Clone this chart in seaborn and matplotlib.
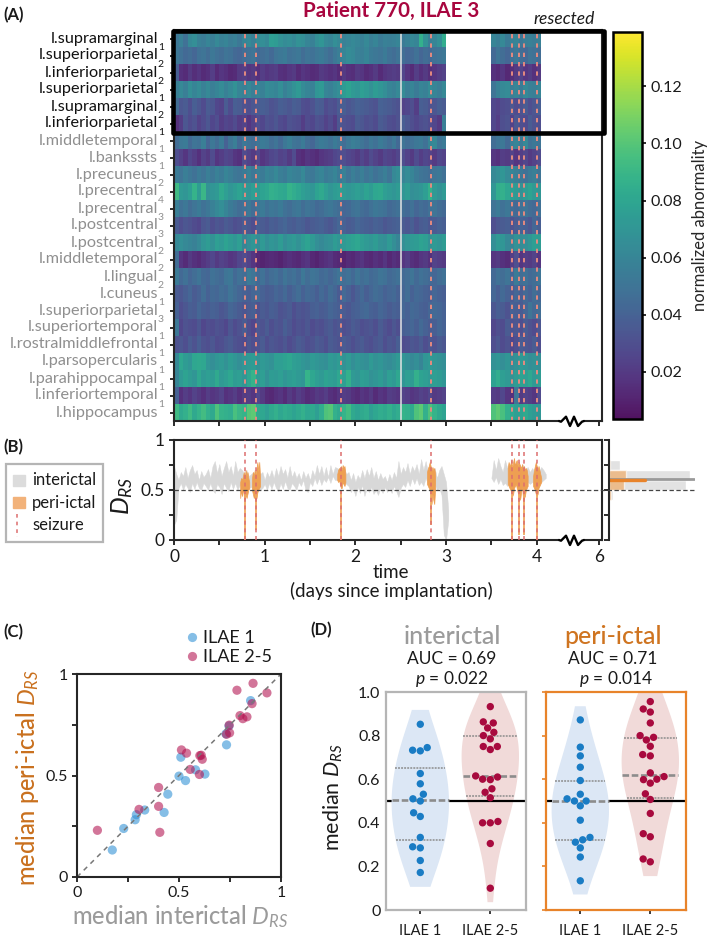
import numpy as np
import pandas as pd
import matplotlib
matplotlib.use("Agg")
import matplotlib.pyplot as plt
import seaborn as sns
from matplotlib.lines import Line2D
from matplotlib.patches import Rectangle

# region names, subscripts, normalized abnormality x1000 in 0.05 day bins
# each row: 60 bins for day 0-3, then 11 bins for day 3.5-4.05
regions = ["l.supramarginal", "l.superiorparietal", "l.inferiorparietal", "l.superiorparietal",
           "l.supramarginal", "l.inferiorparietal", "l.middletemporal", "l.bankssts", "l.precuneus",
           "l.precentral", "l.precentral", "l.postcentral", "l.postcentral", "l.middletemporal",
           "l.lingual", "l.cuneus", "l.superiorparietal", "l.superiortemporal", "l.rostralmiddlefrontal",
           "l.parsopercularis", "l.parahippocampal", "l.inferiortemporal", "l.hippocampus"]
region_sub = ["1", "2", "2", "1", "2", "1", "1", "1", "2", "4", "3", "3", "2", "2", "2", "1", "3", "1", "1", "1", "1", "1", ""]
abn = [
[52,58,48,62,66,58,55,60,56,62,58,60,55,58,52,60,62,58,64,66,62,76,74,68,64,66,62,68,66,60,58,66,70,62,60,66,62,58,60,62,60,58,62,56,60,54,58,56,58,60,54,58,62,60,86,68,56,60,66,84,60,56,62,54,58,60,52,56,58,55,58],
[52,48,44,46,42,48,50,46,52,48,46,50,48,44,42,46,48,50,44,46,48,44,50,52,54,48,50,52,46,50,48,52,54,50,46,52,56,60,64,62,58,56,60,54,52,50,54,48,46,50,46,42,44,48,42,46,44,48,50,52,44,50,46,42,48,52,46,44,50,48,46],
[38,16,14,20,15,18,14,16,22,14,18,16,12,14,20,22,18,20,16,22,18,20,22,16,15,18,20,14,18,16,14,15,20,18,16,18,14,20,16,15,20,18,14,16,20,14,18,20,22,20,26,18,14,22,16,20,15,18,22,24,16,14,18,12,15,20,24,18,22,16,20],
[58,62,56,66,60,64,58,62,56,60,64,58,62,68,60,58,62,56,60,58,64,62,60,66,58,62,68,72,64,60,58,70,72,60,58,62,66,74,78,72,70,76,72,68,74,70,66,60,58,62,64,56,60,54,60,58,64,60,56,62,50,58,62,64,56,60,54,62,58,56,60],
[46,34,36,30,38,34,28,36,34,26,24,36,28,38,36,32,30,34,36,38,36,32,34,38,36,34,38,36,30,28,32,38,36,28,32,30,36,38,34,36,40,38,36,34,32,40,38,36,34,32,24,26,30,22,38,36,32,34,38,36,26,24,28,30,34,28,32,36,30,34,38],
[16,22,34,28,32,24,28,34,26,30,22,26,24,28,22,24,18,24,30,26,32,30,34,28,26,32,30,28,22,28,26,32,30,24,28,22,34,32,30,28,36,34,30,32,28,36,34,30,28,32,38,34,30,26,30,32,28,26,20,56,26,22,30,32,24,34,30,28,36,32,30],
[46,52,54,44,50,48,56,42,52,46,54,40,50,56,44,52,48,46,50,54,52,46,50,44,52,56,50,48,54,46,42,50,54,52,48,54,50,46,52,56,54,50,46,52,48,54,50,46,52,44,50,46,48,52,54,48,60,62,50,54,46,50,52,44,56,60,54,62,48,52,50],
[30,24,18,26,22,16,24,20,28,18,22,26,24,18,16,28,24,20,26,18,22,26,28,24,26,20,28,16,14,18,16,14,18,20,22,26,28,30,26,24,20,26,22,28,24,20,26,24,22,26,30,24,20,28,22,26,24,20,26,24,18,16,22,20,24,18,22,26,20,24,28],
[54,50,56,52,48,54,50,56,52,58,54,60,56,52,50,54,58,52,56,54,60,58,62,56,54,60,58,56,62,54,52,58,60,54,56,60,54,58,50,56,52,56,50,54,48,52,56,50,62,66,60,64,60,54,50,48,46,50,52,48,62,66,70,64,60,56,52,48,54,56,50],
[92,72,70,76,88,74,90,68,70,72,82,76,70,74,78,72,70,76,74,78,80,86,84,82,80,88,84,80,76,72,70,78,82,76,70,74,76,72,70,72,76,72,78,74,80,82,76,72,70,74,70,74,66,68,70,76,86,72,68,72,70,84,86,80,76,72,68,74,78,72,70],
[56,48,52,46,50,54,48,52,58,62,66,60,54,50,46,48,52,46,50,54,48,52,50,54,48,46,50,52,46,50,48,44,46,50,52,48,46,42,44,48,50,46,44,48,52,50,48,44,46,48,46,44,48,42,46,44,48,50,46,44,50,54,48,52,46,44,48,50,46,44,48],
[36,30,34,32,28,26,34,36,30,34,32,36,34,30,32,36,34,30,38,36,34,38,36,40,42,38,36,40,38,34,36,38,40,36,34,38,42,40,36,38,42,40,38,36,40,38,34,36,38,40,36,34,38,32,36,38,34,36,40,38,30,34,36,38,32,36,40,38,34,42,38],
[62,66,62,60,58,62,70,74,68,76,72,78,74,70,76,60,66,70,64,72,66,70,68,74,66,70,72,68,74,78,72,66,62,66,68,74,70,72,76,78,80,76,72,70,74,68,66,72,66,60,66,70,72,74,78,76,68,72,70,74,66,72,70,62,60,68,64,66,70,76,74],
[46,18,14,20,16,14,18,22,26,20,24,22,18,20,26,28,24,18,12,10,12,14,12,10,14,16,14,12,16,18,12,10,14,16,18,14,12,10,14,12,16,18,14,12,16,14,18,12,16,14,18,22,16,14,18,20,16,24,22,20,18,20,16,14,22,30,18,22,20,24,18],
[54,44,48,42,46,50,44,42,48,46,44,50,52,44,48,46,54,50,44,48,42,46,48,44,50,46,48,44,52,46,50,48,44,46,42,46,50,46,48,44,50,46,48,44,46,50,48,44,46,48,44,46,50,44,48,46,44,42,46,48,44,48,46,50,42,54,46,48,44,46,50],
[36,34,38,42,36,40,46,40,44,42,46,44,50,46,42,40,38,42,44,40,36,38,42,40,44,38,42,46,40,44,42,38,44,40,46,42,36,44,40,34,40,44,38,42,46,44,40,42,44,40,42,46,40,44,42,40,38,42,40,38,42,38,44,40,36,42,38,44,40,46,42],
[40,30,34,38,36,42,38,36,40,38,34,36,42,40,36,34,36,38,32,36,34,38,36,32,34,36,30,34,32,34,38,40,36,38,42,40,38,36,34,38,40,42,44,40,38,42,40,36,40,38,42,40,44,42,40,38,42,44,42,40,34,38,36,32,40,38,36,42,50,44,46],
[52,26,32,30,28,34,26,30,28,32,30,26,34,28,32,36,30,26,34,32,36,30,34,32,38,34,28,32,30,34,28,32,30,34,36,32,34,30,32,36,34,30,32,34,30,36,32,28,34,30,38,40,42,38,44,40,36,38,42,40,26,30,28,36,32,34,30,36,32,28,34],
[32,34,30,36,32,38,32,30,34,28,30,34,36,32,30,28,34,30,32,36,30,34,32,30,34,28,32,36,34,30,32,36,34,30,36,34,32,36,34,30,34,36,32,30,34,36,30,34,32,38,28,30,34,32,36,30,34,32,36,34,30,34,28,32,26,30,36,34,32,36,30],
[62,80,74,70,80,82,80,70,66,70,72,68,74,70,66,70,72,74,68,72,70,68,76,76,78,80,76,74,70,68,72,70,68,66,72,70,74,68,72,66,70,68,66,72,68,70,66,64,68,72,70,66,62,66,60,70,72,70,68,66,68,70,66,70,64,68,72,70,66,68,66],
[60,72,78,74,70,80,72,76,74,82,72,76,80,74,76,70,80,88,72,76,68,74,72,76,70,74,76,72,70,88,80,76,72,78,76,74,80,76,86,72,70,76,74,68,70,74,68,76,72,80,70,76,74,86,78,76,72,76,74,70,78,84,76,72,68,74,78,76,80,72,74],
[40,16,22,18,24,20,16,22,18,20,24,16,18,22,16,20,22,18,26,20,14,12,16,18,14,20,16,22,18,14,16,20,18,22,16,14,18,22,20,16,14,18,16,20,14,18,16,22,20,18,24,22,18,20,24,22,26,20,22,24,22,20,26,18,16,50,20,24,22,18,28],
[92,82,86,92,82,88,94,86,82,98,88,86,84,96,90,88,100,102,82,80,76,82,86,80,84,82,78,82,86,80,82,76,84,98,100,86,82,88,94,82,78,82,84,76,80,84,82,86,80,84,88,86,82,98,102,86,98,88,82,78,98,102,96,86,80,76,78,82,76,72,70],
]

seizures = [0.78, 0.90, 1.84, 2.83, 3.73, 3.81, 3.86, 4.00]
spike_low = [0, .1, 0, .15, 0, .05, .05, 0]

# D_RS trace envelope, 0.025 day steps from day 0 to 3.025, and from 3.5 to 4.1
inter_up = [.74,.66,.60,.68,.64,.73,.62,.70,.75,.66,.70,.60,.69,.63,.66,.71,.62,.74,.79,.67,.76,.64,.72,.79,.68,.74,.64,.79,.68,.72,
            .70,.66,.70,.64,.66,.68,.64,.70,.66,.68,
            .60,.68,.63,.70,.62,.72,.64,.74,.66,.71,.62,.74,.63,.69,.62,.67,.60,.69,.62,.67,.60,.70,.64,.75,.66,.74,.64,.73,.63,.75,.66,.73,
            .72,.70,.70,.72,.66,
            .68,.60,.67,.58,.65,.61,.70,.62,.71,.64,.73,.62,.69,.60,.67,.61,.64,.58,.66,.60,.68,.62,.79,.66,.73,
            .68,.77,.66,.74,.69,.76,.66,.81,.70,.79,.68,.73,
            .66,.72,.62,.70,.74,.66,.58,.30][:122]
inter_low = [.15,.20,.52,.57,.50,.56,.52,.48,.57,.51,.58,.52,.50,.57,.54,.50,.57,.50,.47,.56,.53,.46,.57,.52,.49,.58,.51,.57,.50,.55,
             .52,.54,.50,.52,.53,.50,.52,.54,.50,.52,
             .56,.50,.57,.51,.58,.52,.49,.57,.51,.59,.52,.50,.57,.54,.50,.58,.54,.60,.50,.48,.58,.54,.62,.56,.62,.55,.61,.58,.63,.57,.64,.60,
             .60,.60,.60,.58,.56,
             .54,.48,.52,.44,.53,.47,.55,.44,.52,.48,.53,.46,.50,.45,.52,.47,.53,.48,.52,.47,.54,.49,.43,.52,
             .56,.53,.60,.54,.62,.56,.62,.55,.58,.54,.62,.56,
             .60,.54,.56,.50,.52,.45,.05,.0,.20]
inter2_up = [.62,.80,.70,.82,.74,.68,.80,.72,.76,.68,.75,.70,.73,.68,.75,.70,.73,.68,.72,.68,.74,.69,.73,.70,.66]
inter2_low = [.62,.58,.63,.56,.61,.55,.57,.54,.60,.55,.59,.60,.58,.56,.58,.60,.58,.56,.58,.56,.58,.60,.58,.60,.62]

# peri-ictal envelope, 0.01 day steps: start day, upper, lower
peri_segments = [
    (.73, [.58,.62,.60,.64,.68,.62,.70,.64,.68,.62,.58], [.42,.50,.44,.52,.44,.40,.46,.42,.46,.50,.52]),
    (.86, [.62,.68,.64,.70,.66,.72,.78,.68,.78,.62], [.50,.46,.42,.44,.40,.42,.48,.50,.52,.54]),
    (1.80, [.66,.70,.72,.70,.74,.70,.75,.72,.74,.66], [.60,.58,.60,.56,.52,.52,.58,.56,.54,.58]),
    (2.79, [.68,.72,.74,.78,.74,.70,.73,.70,.72,.66], [.56,.54,.52,.50,.46,.36,.46,.40,.36,.52]),
    (3.68, [.72,.78,.74,.76,.80,.72,.78,.82,.74,.78,.80,.74,.78,.76,.74,.72,.76,.70,.74,.70,.72,.70,.64],
           [.56,.54,.52,.50,.48,.44,.46,.52,.54,.56,.52,.48,.44,.40,.42,.50,.52,.40,.42,.44,.50,.52,.54]),
    (3.96, [.64,.70,.74,.78,.74,.70,.74,.70,.66,.62], [.54,.52,.50,.46,.44,.46,.52,.54,.56,.58]),
]

hist_bins = [.4, .5, .6, .7]
hist_inter = [.045, .89, .94, .13]
hist_peri = [.02, .18, .20, .01]

# panel C, median D_RS per patient
c_inter_1 = [.173,.229,.285,.291,.332,.427,.445,.50,.532,.581,.627,.509,.73,.733,.745,.851]
c_peri_1 = [.133,.239,.282,.307,.33,.318,.408,.497,.475,.528,.507,.59,.705,.651,.744,.869]
c_inter_2 = [.10,.304,.40,.406,.40,.512,.537,.555,.60,.602,.609,.614,.746,.733,.748,.784,.799,.813,.833,.858,.863,.931]
c_peri_2 = [.23,.333,.348,.22,.441,.626,.61,.53,.505,.598,.60,.58,.748,.703,.71,.92,.795,.78,.789,.854,.954,.907]

# panel D
d_inter_1 = [.852,.733,.73,.745,.626,.579,.531,.51,.50,.446,.429,.333,.29,.285,.227,.172]
d_inter_2 = [.933,.863,.858,.835,.815,.80,.785,.75,.75,.736,.615,.60,.598,.61,.556,.54,.515,.40,.40,.406,.305,.10]
d_peri_1 = [.872,.747,.707,.655,.594,.531,.51,.50,.50,.478,.412,.333,.322,.311,.285,.243,.134]
d_peri_2 = [.956,.922,.908,.858,.80,.792,.78,.751,.713,.707,.629,.612,.60,.598,.582,.533,.507,.443,.35,.336,.234,.221]

W, H = 709, 940
sns.set_theme(style="ticks", font="Lato")
plt.rcParams["font.family"] = ["Lato", "DejaVu Sans"]
plt.rcParams["mathtext.fontset"] = "custom"
plt.rcParams["mathtext.rm"] = "Lato"
plt.rcParams["mathtext.it"] = "Lato:italic"
plt.rcParams["mathtext.bf"] = "Lato:bold"
plt.rcParams["mathtext.default"] = "regular"
plt.rcParams["axes.linewidth"] = 1.5
plt.rcParams["text.color"] = "#1a1a1a"
plt.rcParams["xtick.color"] = "#1a1a1a"
plt.rcParams["ytick.color"] = "#1a1a1a"

fig = plt.figure(figsize=(W / 100, H / 100), dpi=100)


def box(x0, y0, x1, y1):
    return [x0 / W, 1 - y1 / H, (x1 - x0) / W, (y1 - y0) / H]


def ftext(x, y, s, **kw):
    kw.setdefault("ha", "center")
    kw.setdefault("va", "center")
    return fig.text(x / W, 1 - y / H, s, **kw)


def fline(xs, ys, **kw):
    line = Line2D([x / W for x in xs], [1 - y / H for y in ys], transform=fig.transFigure, **kw)
    fig.add_artist(line)


def axis_break(y):
    fig.add_artist(Rectangle((559 / W, 1 - (y + 3) / H), 24 / W, 6 / H, transform=fig.transFigure,
                             color="white", zorder=5))
    fline([559, 561, 566, 570, 574, 578, 582, 584],
          [y, y + .7, y - 4.3, y + 5, y - 4.3, y + 5, y + .7, y],
          color="black", lw=1.7, zorder=6)


# panel A
BIN = 0.05
matrix = [r[:60] + [np.nan] * 10 + r[60:] + [np.nan] * 14 for r in abn]
assert all(len(r) == 71 for r in abn)
heat = pd.DataFrame(matrix, index=regions) / 1000

ax_a = fig.add_axes(box(174, 30, 602, 421))
cax = fig.add_axes(box(613, 32, 642, 419))
sns.heatmap(heat, ax=ax_a, cbar_ax=cax, cmap="viridis", vmin=.0035, vmax=.139, xticklabels=False, alpha=.93,
            yticklabels=regions, cbar_kws={"ticks": [.02, .04, .06, .08, .10, .12]})
ax_a.set_xlim(0, 4.72 / BIN)
day_ticks = [0, .5, 1, 1.5, 2, 2.5, 3, 3.5, 4, 4.686]
ax_a.set_xticks([d / BIN for d in day_ticks])
ax_a.tick_params(axis="x", length=3.5, width=1.3, labelbottom=False)
ax_a.tick_params(axis="y", length=3, width=1.3, pad=8.5, labelsize=11.7, labelrotation=0)
for s in ax_a.spines.values():
    s.set_visible(True)
    s.set_linewidth(1.5)
for i, (lab, sub) in enumerate(zip(ax_a.get_yticklabels(), region_sub)):
    col = "#111111" if i < 6 else "#8f8f8f"
    lab.set_color(col)
    ax_a.annotate(sub, xy=(0, i + .5), xycoords=("axes fraction", "data"), xytext=(-9.5, -6.3),
                  textcoords="offset points", ha="center", va="center", fontsize=7.5, color=col,
                  annotation_clip=False)
for sz in seizures:
    ax_a.axvline(sz / BIN, color="#e58a80", lw=1.4, ls=(0, (2.2, 2.6)))
ax_a.axvline(2.5 / BIN, color="#e4e4e4", lw=1.1)

cbar = ax_a.collections[0].colorbar
cbar.outline.set_linewidth(1.8)
cbar.outline.set_edgecolor("black")
cbar.ax.tick_params(length=3, width=1.3, labelsize=11.5, pad=3)
cbar.ax.set_yticklabels(["0.02", "0.04", "0.06", "0.08", "0.10", "0.12"])
cbar.set_label("normalized abnormality", fontsize=12, labelpad=7)

fig.add_artist(Rectangle((172.5 / W, 1 - 133 / H), 431 / W, 102.5 / H, transform=fig.transFigure,
                         fill=False, edgecolor="black", lw=3.3, zorder=4, joinstyle="round"))
axis_break(421)

# panel B
ax_b = fig.add_axes(box(174, 440, 602, 540))
ax_b.set_xlim(0, 4.72)
ax_b.set_ylim(0, 1)
t1 = np.arange(len(inter_up)) * .025
t2 = 3.5 + np.arange(len(inter2_up)) * .025
ax_b.fill_between(t1, inter_low, inter_up, color="#d8d8d8", lw=.3)
ax_b.fill_between(t2, inter2_low, inter2_up, color="#d8d8d8", lw=.3)
for start, up, low in peri_segments:
    tp = start + np.arange(len(up)) * .01
    ax_b.fill_between(tp, low, up, color="#ee9f52", lw=.5, zorder=3)
ax_b.vlines(seizures, spike_low, .5, color="#f0a860", lw=1.3, zorder=3)
for sz in seizures:
    ax_b.axvline(sz, color="#dd6e6e", lw=1.1, ls=(0, (2.6, 2.4)), zorder=4)
ax_b.set_xticks(day_ticks)
ax_b.set_xticklabels(["0", "", "1", "", "2", "", "3", "", "4", "6"], fontsize=12.5)
ax_b.set_yticks([0, .25, .5, .75, 1])
ax_b.set_yticklabels(["0", "", "0.5", "", "1"], fontsize=12.5)
ax_b.tick_params(length=3.5, width=1.3, pad=3)
axis_break(540)

ax_h = fig.add_axes(box(609, 440, 695, 540))
ax_h.set_xlim(0, 1)
ax_h.set_ylim(0, 1)
ax_h.barh(hist_bins, hist_inter, height=.1, align="edge", color="#e2e2e2")
ax_h.barh(hist_bins, hist_peri, height=.1, align="edge", color="#f0a860", alpha=.65)
ax_h.plot([0, .99], [.61, .61], color="#9a9a9a", lw=2)
ax_h.plot([0, .42], [.60, .60], color="#e8832a", lw=2.4)
sns.despine(ax=ax_h, top=True, right=True, bottom=True)
ax_h.set_xticks([])
ax_h.set_yticks([0, .25, .5, .75, 1])
ax_h.set_yticklabels([])
ax_h.tick_params(axis="y", length=3.5, width=1.3)
fline([174, 695], [490, 490], color="#444444", lw=.9, ls=(0, (3.5, 2)), zorder=7)

ftext(391, 572, "time", fontsize=13.5)
ftext(391, 591, "(days since implantation)", fontsize=13.5)
ftext(122, 496, r"$\mathit{D}_{\mathit{RS}}$", fontsize=18, rotation=90)

fig.add_artist(Rectangle((6 / W, 1 - 542 / H), 97 / W, 78 / H, transform=fig.transFigure, fill=False,
                         edgecolor="#b5b5b5", lw=1.6))
fig.add_artist(Rectangle((13 / W, 1 - 486 / H), 12 / W, 11 / H, transform=fig.transFigure, color="#dcdcdc"))
fig.add_artist(Rectangle((13 / W, 1 - 508 / H), 12 / W, 11 / H, transform=fig.transFigure, color="#f2b27a"))
fline([17, 17], [514, 537], color="#dd6e6e", lw=1.1, ls=(0, (2.4, 2.6)))
ftext(32, 480, "interictal", fontsize=12, ha="left")
ftext(32, 503, "peri-ictal", fontsize=12, ha="left")
ftext(32, 525, "seizure", fontsize=12, ha="left")

# panel C
ax_c = fig.add_axes(box(77, 674, 281, 877))
scatter_df = pd.DataFrame({
    "inter": c_inter_1 + c_inter_2,
    "peri": c_peri_1 + c_peri_2,
    "group": ["ILAE 1"] * len(c_inter_1) + ["ILAE 2-5"] * len(c_inter_2),
})
ax_c.plot([0, 1], [0, 1], color="#777777", lw=1.1, ls=(0, (3.2, 3)))
sns.scatterplot(data=scatter_df, x="inter", y="peri", hue="group", s=44, alpha=.58, linewidth=0,
                palette={"ILAE 1": "#2e8fd4", "ILAE 2-5": "#b3124f"}, ax=ax_c)
ax_c.set_xlim(0, 1)
ax_c.set_ylim(0, 1)
ax_c.set_xticks([0, .25, .5, .75, 1])
ax_c.set_xticklabels(["0", "", "0.5", "", "1"], fontsize=11.5)
ax_c.set_yticks([0, .25, .5, .75, 1])
ax_c.set_yticklabels(["0", "", "0.5", "", "1"], fontsize=11.5)
ax_c.tick_params(length=3.5, width=1.3, pad=3)
ax_c.set_xlabel("")
ax_c.set_ylabel("")
sns.move_legend(ax_c, "lower right", bbox_to_anchor=(1.0, 1.0), frameon=False, title=None, fontsize=13,
                labelspacing=.15, handletextpad=-.2, borderpad=0, handlelength=1.6)
ftext(28, 778, r"median peri-ictal $\mathit{D}_{\mathit{RS}}$", fontsize=17, rotation=90, color="#c9701e",
      fontweight="medium")
ftext(180, 917, r"median interictal $\mathit{D}_{\mathit{RS}}$", fontsize=17, color="#9b9b9b", fontweight="medium")

# panel D
violin_cols = {"ILAE 1": "#dce7f5", "ILAE 2-5": "#f1dad9"}
dot_cols = {"ILAE 1": "#1a7cc4", "ILAE 2-5": "#a80a3e"}
panels = [(box(386, 692, 526, 910), d_inter_1, d_inter_2, "#b5b5b5"),
          (box(546, 692, 686, 910), d_peri_1, d_peri_2, "#e8832a")]
for n, (rect, g1, g2, edge) in enumerate(panels):
    ax = fig.add_axes(rect)
    df = pd.DataFrame({"group": ["ILAE 1"] * len(g1) + ["ILAE 2-5"] * len(g2), "value": g1 + g2})
    sns.violinplot(data=df, x="group", y="value", hue="group", palette=violin_cols, saturation=1, inner="quart",
                   cut=.45, bw_adjust=1.25, density_norm="width", width=.82, linewidth=1.1, linecolor="#8c8c8c",
                   legend=False, ax=ax)
    for c in ax.collections:
        c.set_edgecolor("none")
    for i, ln in enumerate(ax.lines):
        if i % 3 == 1:
            ln.set_linewidth(1.9)
    ax.collections[0].set_zorder(1.7)
    ax.axhline(.5, color="black", lw=1.6, zorder=1.5, clip_on=False)
    sns.swarmplot(data=df, x="group", y="value", hue="group", palette=dot_cols, size=5.3, legend=False, ax=ax)
    ax.set_xlim(-.49, 1.51)
    ax.set_ylim(0, 1)
    ax.set_xlabel("")
    ax.set_ylabel("")
    ax.tick_params(axis="x", labelsize=10.5, length=3, width=1.2, pad=7)
    ax.set_yticks([0, .2, .4, .6, .8, 1])
    for s in ax.spines.values():
        s.set_color(edge)
        s.set_linewidth(1.6)
    if n == 0:
        ax.set_yticklabels(["0", "0.2", "0.4", "0.6", "0.8", "1.0"], fontsize=11.5)
        ax.tick_params(axis="y", length=0, pad=4)
    else:
        ax.set_yticklabels([])
        ax.tick_params(axis="y", length=3, width=1.2, color=edge)

ftext(333, 797, r"median $\mathit{D}_{\mathit{RS}}$", fontsize=15.5, rotation=90)
ftext(452, 637, "interictal", fontsize=18, color="#9b9b9b", fontweight="medium")
ftext(452, 659, "AUC = 0.69", fontsize=12.5)
ftext(452, 679, r"$\mathit{p}$ = 0.022", fontsize=12.5)
ftext(613, 637, "peri-ictal", fontsize=18, color="#cf7420", fontweight="medium")
ftext(613, 659, "AUC = 0.71", fontsize=12.5)
ftext(616, 679, r"$\mathit{p}$ = 0.014", fontsize=12.5)

ftext(3, 15, "(A)", fontsize=12, fontweight="bold", ha="left")
ftext(3, 447, "(B)", fontsize=12, fontweight="bold", ha="left")
ftext(3, 632, "(C)", fontsize=12, fontweight="bold", ha="left")
ftext(310, 630, "(D)", fontsize=12, fontweight="bold", ha="left")
ftext(391, 11, "Patient 770, ILAE 3", fontsize=14.8, fontweight="bold", color="#a8063f")
ftext(564, 19, "resected", fontsize=12.5, style="italic")

fig.savefig("out.png", dpi=100)
